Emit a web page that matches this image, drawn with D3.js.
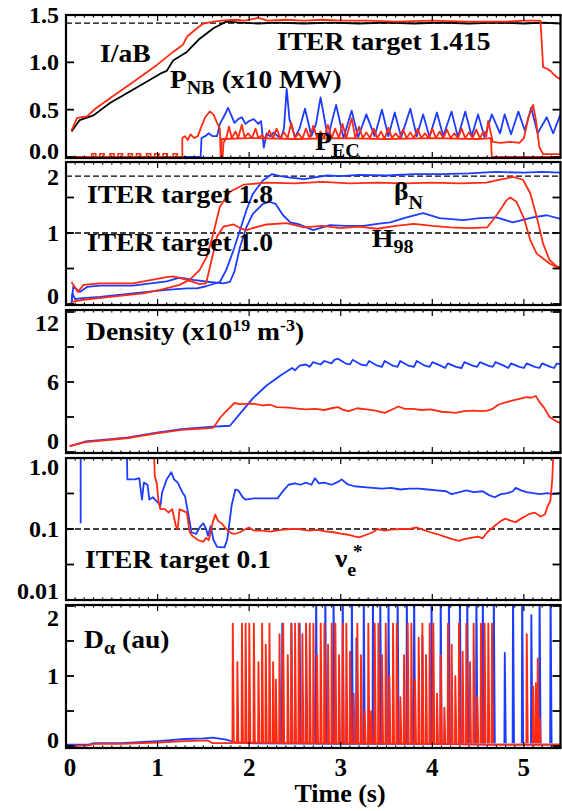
<!DOCTYPE html>
<html><head><meta charset="utf-8">
<script src="https://cdn.jsdelivr.net/npm/d3@7"></script>
<style>body{margin:0;background:#fff}svg{display:block}text{font-family:"Liberation Serif","Times New Roman",serif;font-weight:bold;fill:#000}</style>
</head><body>
<script>
// ---------------- DATA ----------------
const xTickValues = [0,1,2,3,4,5];
const xTickLabels = ["0","1","2","3","4","5"];
const xTitle = "Time (s)";

// Panel 1 : I/aB, P_NB, P_EC
const iaB_black = [[0.06,0.27],[0.15,0.39],[0.30,0.44],[0.48,0.57],[0.73,0.71],[1.03,0.88],[1.10,0.91],[1.17,1.02],[1.32,1.11],[1.46,1.25],[1.61,1.36],[1.75,1.43],[1.9,1.42],[2.1,1.41],[2.3,1.42],[2.6,1.41],[2.9,1.42],[3.2,1.41],[3.5,1.42],[3.8,1.41],[4.1,1.42],[4.4,1.41],[4.7,1.42],[5.0,1.41],[5.2,1.42],[5.4,1.41]];
const iaB_red = [[0.06,0.28],[0.12,0.41],[0.17,0.42],[0.23,0.43],[0.32,0.51],[0.48,0.62],[0.73,0.79],[0.99,0.97],[1.17,1.11],[1.24,1.16],[1.28,1.19],[1.32,1.27],[1.43,1.36],[1.50,1.41],[1.61,1.43],[1.7,1.44],[1.85,1.45],[1.95,1.44],[2.1,1.47],[2.2,1.44],[2.4,1.45],[2.6,1.44],[2.8,1.45],[3.0,1.44],[3.3,1.44],[3.6,1.43],[4.0,1.44],[4.4,1.43],[4.8,1.43],[5.0,1.44],[5.18,1.44],[5.19,1.3],[5.21,0.95],[5.26,0.93],[5.3,0.9],[5.35,0.85],[5.4,0.82]];
const pnb_blue = [[0,0],[1.47,0],[1.48,0.2],[1.52,0.22],[1.56,0.25],[1.6,0.22],[1.65,0.22],[1.68,0.35],[1.72,0.42],[1.77,0.52],[1.8,0.45],[1.84,0.36],[1.88,0.4],[1.92,0.42],[1.96,0.35],[2.0,0.38],[2.05,0.4],[2.1,0.35],[2.13,0.38],[2.16,0.1],[2.19,0.25],[2.23,0.22],[2.27,0.26],[2.31,0.22],[2.35,0.2],[2.38,0.3],[2.41,0.72],[2.44,0.4],[2.50,0.21],[2.55,0.3],[2.61,0.51],[2.68,0.22],[2.73,0.35],[2.78,0.63],[2.86,0.2],[2.91,0.4],[2.95,0.55],[3.03,0.2],[3.12,0.49],[3.19,0.21],[3.28,0.45],[3.37,0.22],[3.45,0.5],[3.52,0.22],[3.59,0.47],[3.66,0.21],[3.76,0.51],[3.83,0.22],[3.90,0.45],[3.97,0.21],[4.05,0.47],[4.12,0.22],[4.21,0.48],[4.28,0.21],[4.36,0.48],[4.43,0.22],[4.50,0.45],[4.57,0.21],[4.65,0.45],[4.74,0.25],[4.79,0.45],[4.86,0.24],[4.94,0.48],[5.01,0.28],[5.08,0.52],[5.15,0.25],[5.25,0.42],[5.32,0.25],[5.4,0.45]];
const pnb_red = [[0,0],[1.27,0],[1.27,0.2],[1.3,0.22],[1.33,0.18],[1.36,0.24],[1.4,0.2],[1.44,0.22],[1.47,0.3],[1.52,0.42],[1.57,0.48],[1.61,0.45],[1.65,0.36],[1.68,0.3],[1.69,0.0],[1.71,0.0],[1.72,0.15],[1.75,0.2],[1.78,0.32],[1.81,0.2],[1.85,0.27],[1.88,0.2],[1.92,0.34],[1.95,0.21],[1.99,0.25],[2.03,0.2],[2.07,0.3],[2.1,0.2],[2.14,0.23],[2.18,0.19],[2.22,0.28],[2.26,0.2],[2.3,0.3],[2.34,0.2],[2.38,0.26],[2.42,0.2],[2.46,0.36],[2.5,0.2],[2.54,0.25],[2.58,0.19],[2.62,0.3],[2.66,0.2],[2.7,0.33],[2.74,0.21],[2.78,0.27],[2.82,0.2],[2.86,0.34],[2.9,0.2],[2.94,0.3],[2.98,0.2],[3.02,0.35],[3.06,0.2],[3.12,0.41],[3.16,0.2],[3.2,0.32],[3.24,0.2],[3.28,0.26],[3.32,0.2],[3.36,0.3],[3.4,0.2],[3.44,0.27],[3.48,0.19],[3.52,0.31],[3.56,0.2],[3.6,0.25],[3.64,0.2],[3.68,0.29],[3.72,0.2],[3.76,0.26],[3.8,0.2],[3.84,0.3],[3.88,0.2],[3.92,0.25],[3.96,0.2],[4.0,0.3],[4.04,0.2],[4.08,0.27],[4.12,0.2],[4.16,0.29],[4.2,0.2],[4.24,0.25],[4.28,0.2],[4.32,0.3],[4.36,0.2],[4.4,0.26],[4.44,0.2],[4.48,0.29],[4.52,0.2],[4.56,0.27],[4.59,0.22],[4.61,0.38],[4.64,0.25],[4.66,0.16],[4.75,0.15],[4.85,0.16],[4.95,0.15],[5.0,0.2],[5.05,0.42],[5.1,0.55],[5.13,0.4],[5.17,0.1],[5.21,0.03],[5.4,0.03]];
const pnb_red_pulses = [0.28,0.37,0.48,0.57,0.68,0.77,0.88,0.97,1.06,1.17];
const pnb_red_pulseHeight = 0.035;
const pec_red = [[1.69,0],[1.70,0.19],[2.0,0.2],[2.5,0.19],[3.0,0.2],[3.5,0.19],[4.0,0.2],[4.5,0.19],[4.64,0.2],[4.65,0],[5.4,0]];

// Panel 2 : beta_N, H98
const betaN_blue = [[0.06,0],[0.07,0.15],[0.1,0.07],[0.15,0.08],[0.37,0.1],[0.73,0.15],[1.1,0.2],[1.32,0.22],[1.43,0.22],[1.53,0.25],[1.68,0.31],[1.75,0.48],[1.83,0.76],[1.9,1.04],[1.97,1.32],[2.04,1.55],[2.15,1.74],[2.25,1.83],[2.34,1.8],[2.45,1.78],[2.6,1.76],[2.7,1.78],[2.85,1.81],[3.0,1.8],[3.2,1.82],[3.5,1.81],[3.8,1.83],[4.1,1.83],[4.4,1.84],[4.7,1.86],[5.0,1.85],[5.2,1.86],[5.4,1.85]];
const h98_blue = [[0.06,0],[0.08,0.25],[0.15,0.17],[0.23,0.24],[0.37,0.26],[0.73,0.26],[1.1,0.32],[1.24,0.37],[1.39,0.34],[1.57,0.31],[1.72,0.29],[1.79,0.31],[1.84,0.46],[1.9,0.8],[1.97,1.08],[2.04,1.27],[2.15,1.41],[2.22,1.44],[2.29,1.41],[2.37,1.25],[2.45,1.15],[2.55,1.12],[2.7,1.04],[2.8,1.08],[2.88,1.11],[3.05,1.1],[3.25,1.1],[3.4,1.13],[3.54,1.15],[3.72,1.22],[3.9,1.28],[4.08,1.21],[4.34,1.18],[4.52,1.21],[4.7,1.22],[4.88,1.15],[5.1,1.22],[5.25,1.25],[5.4,1.2]];
const betaN_red = [[0.06,0.03],[0.19,0.06],[0.48,0.1],[0.84,0.15],[1.03,0.2],[1.24,0.27],[1.35,0.34],[1.46,0.48],[1.54,0.67],[1.61,1.0],[1.68,1.37],[1.79,1.58],[1.94,1.68],[2.19,1.71],[2.5,1.7],[2.8,1.72],[3.1,1.7],[3.4,1.71],[3.7,1.7],[4.0,1.71],[4.3,1.7],[4.59,1.71],[4.7,1.74],[4.81,1.77],[4.88,1.79],[4.99,1.75],[5.07,1.56],[5.14,1.23],[5.21,0.85],[5.28,0.62],[5.36,0.53],[5.4,0.52]];
const h98_red = [[0.06,0.31],[0.13,0.17],[0.19,0.27],[0.37,0.29],[0.73,0.29],[1.1,0.38],[1.17,0.39],[1.32,0.34],[1.46,0.28],[1.53,0.29],[1.59,0.62],[1.65,0.95],[1.72,1.09],[1.83,1.12],[1.9,1.07],[1.97,1.04],[2.04,1.07],[2.19,1.12],[2.41,1.14],[2.6,1.08],[2.8,1.1],[3.0,1.07],[3.2,1.09],[3.4,1.06],[3.6,1.1],[3.8,1.13],[4.0,1.1],[4.2,1.08],[4.4,1.07],[4.6,1.08],[4.66,1.18],[4.74,1.32],[4.81,1.46],[4.85,1.5],[4.92,1.44],[5.0,1.21],[5.07,0.9],[5.14,0.71],[5.21,0.64],[5.28,0.57],[5.36,0.52],[5.4,0.5]];

// Panel 3 : density
const dens_blue = [[0.04,0.5],[0.21,0.9],[0.49,1.1],[0.68,1.25],[0.99,1.65],[1.26,1.95],[1.57,2.15],[1.79,2.25],[1.88,3.1],[2.04,4.6],[2.19,5.7],[2.35,6.6],[2.47,7.2],[2.5,7.0],[2.55,7.4],[2.62,7.5],[2.66,7.3],[2.7,7.7],[2.78,7.5],[2.82,7.8],[2.9,7.6],[2.93,7.9],[2.97,8.0],[3.05,7.6],[3.1,7.5],[3.13,7.9],[3.22,7.5],[3.28,7.4],[3.31,7.8],[3.4,7.4],[3.45,7.3],[3.48,7.8],[3.57,7.4],[3.62,7.3],[3.65,7.8],[3.74,7.4],[3.8,7.3],[3.83,7.8],[3.92,7.4],[3.97,7.3],[4.0,7.7],[4.09,7.4],[4.14,7.2],[4.17,7.6],[4.26,7.3],[4.32,7.2],[4.35,7.7],[4.44,7.4],[4.49,7.3],[4.52,7.7],[4.61,7.4],[4.66,7.3],[4.69,7.7],[4.78,7.4],[4.83,7.2],[4.86,7.6],[4.95,7.3],[5.0,7.2],[5.03,7.6],[5.12,7.3],[5.17,7.2],[5.2,7.6],[5.29,7.3],[5.33,7.2],[5.36,7.6],[5.4,7.5]];
const dens_red = [[0.04,0.5],[0.21,0.85],[0.49,1.05],[0.68,1.2],[0.99,1.6],[1.26,1.9],[1.57,2.05],[1.61,2.1],[1.69,3.0],[1.75,3.5],[1.84,4.2],[1.9,4.1],[2.04,4.15],[2.15,4.0],[2.23,4.05],[2.3,3.85],[2.43,3.8],[2.55,3.7],[2.62,3.65],[2.72,3.7],[2.82,3.6],[2.9,3.75],[2.97,3.85],[3.03,3.6],[3.09,3.5],[3.18,3.75],[3.28,3.65],[3.38,3.55],[3.48,3.35],[3.55,3.6],[3.63,3.9],[3.7,3.7],[3.79,3.7],[3.88,3.6],[3.98,3.65],[4.1,3.45],[4.2,3.4],[4.25,3.35],[4.35,3.5],[4.45,3.55],[4.53,3.5],[4.6,3.55],[4.66,3.7],[4.72,4.05],[4.8,4.25],[4.87,4.4],[4.95,4.55],[5.03,4.7],[5.08,4.65],[5.13,4.8],[5.17,4.3],[5.22,3.8],[5.28,3.0],[5.32,2.8],[5.36,2.6],[5.4,2.5]];

// Panel 4 : nu_e*
const nu_blue_early = [[0.16,0.12],[0.16,3]];
const nu_blue = [[0.66,3],[0.67,0.5],[0.75,0.5],[0.80,0.52],[0.83,0.26],[0.85,0.45],[0.89,0.42],[0.91,0.26],[0.95,0.28],[1.0,0.24],[1.03,0.21],[1.05,0.33],[1.1,0.5],[1.15,0.63],[1.18,0.5],[1.22,0.45],[1.27,0.33],[1.30,0.29],[1.34,0.15],[1.37,0.09],[1.42,0.085],[1.47,0.11],[1.50,0.12],[1.53,0.1],[1.55,0.08],[1.58,0.11],[1.61,0.07],[1.65,0.056],[1.73,0.055],[1.76,0.07],[1.78,0.11],[1.81,0.22],[1.85,0.36],[1.88,0.35],[1.93,0.28],[1.96,0.26],[2.05,0.27],[2.12,0.27],[2.2,0.27],[2.31,0.27],[2.36,0.33],[2.43,0.42],[2.5,0.44],[2.56,0.42],[2.62,0.45],[2.68,0.42],[2.72,0.52],[2.76,0.44],[2.82,0.45],[2.9,0.42],[2.97,0.46],[3.01,0.5],[3.07,0.43],[3.15,0.4],[3.25,0.39],[3.35,0.38],[3.45,0.37],[3.55,0.38],[3.65,0.36],[3.75,0.37],[3.85,0.37],[3.95,0.36],[4.05,0.35],[4.15,0.34],[4.21,0.31],[4.3,0.33],[4.37,0.35],[4.45,0.33],[4.55,0.34],[4.62,0.3],[4.68,0.28],[4.75,0.31],[4.82,0.32],[4.88,0.34],[4.91,0.38],[4.97,0.35],[5.03,0.33],[5.1,0.32],[5.18,0.31],[5.25,0.32],[5.32,0.31],[5.4,0.32]];
const nu_red = [[0.95,3],[0.97,0.55],[0.99,0.45],[1.01,0.25],[1.03,0.19],[1.08,0.19],[1.12,0.17],[1.16,0.19],[1.2,0.11],[1.22,0.1],[1.24,0.19],[1.28,0.18],[1.32,0.17],[1.35,0.09],[1.38,0.08],[1.44,0.07],[1.5,0.066],[1.53,0.075],[1.56,0.07],[1.6,0.12],[1.63,0.16],[1.66,0.13],[1.7,0.12],[1.75,0.1],[1.8,0.088],[1.84,0.085],[1.9,0.09],[1.96,0.1],[2.0,0.105],[2.05,0.095],[2.15,0.095],[2.23,0.092],[2.35,0.097],[2.45,0.1],[2.54,0.1],[2.65,0.095],[2.75,0.097],[2.82,0.093],[2.92,0.09],[3.0,0.086],[3.08,0.083],[3.15,0.079],[3.2,0.076],[3.28,0.083],[3.35,0.09],[3.4,0.1],[3.48,0.095],[3.55,0.098],[3.65,0.1],[3.75,0.1],[3.83,0.105],[3.9,0.097],[3.98,0.09],[4.05,0.085],[4.15,0.077],[4.22,0.072],[4.29,0.068],[4.35,0.072],[4.42,0.075],[4.5,0.078],[4.55,0.074],[4.6,0.09],[4.68,0.11],[4.75,0.13],[4.8,0.14],[4.86,0.13],[4.91,0.125],[4.97,0.14],[5.03,0.155],[5.07,0.165],[5.12,0.17],[5.18,0.15],[5.23,0.16],[5.26,0.21],[5.29,0.25],[5.31,0.5],[5.32,1.0],[5.34,3]];

// Panel 5 : D-alpha
const da_blue_base = [[0,0.02],[0.25,0.02],[0.3,0.04],[0.6,0.04],[1.0,0.07],[1.3,0.1],[1.5,0.11],[1.6,0.12],[1.75,0.09],[1.85,0.05],[2.0,0.04],[3.0,0.03],[4.0,0.03],[4.6,0.02],[5.4,0.02]];
const da_red_base = [[0,0.0],[0.25,0.01],[0.3,0.03],[0.6,0.03],[1.0,0.05],[1.3,0.07],[1.55,0.08],[1.6,0.04],[1.8,0.04],[1.85,0.05],[2.5,0.04],[4.0,0.03],[4.7,0.02],[5.4,0.02]];
const da_blue_spikeT = [2.36,2.46,2.55,2.62,2.73,2.83,2.92,3.02,3.12,3.17,3.25,3.35,3.43,3.52,3.62,3.72,3.80,3.89,3.99,4.09,4.18,4.30,4.38,4.48,4.55,4.67,4.79,4.88,4.98,5.08,5.17,5.29];
const da_blue_spikeV = [1.75,1.75,1.75,1.75,2.3,2.3,2.3,2.3,2.3,1.54,2.3,2.3,2.3,2.3,2.3,2.3,2.3,1.57,2.3,2.3,2.3,2.3,2.3,2.3,2.3,2.3,1.33,2.3,2.3,1.87,2.3,2.3];
const da_red_spikeT = [1.82,1.87,1.92,1.96,2.00,2.05,2.10,2.14,2.18,2.22,2.26,2.29,2.33,2.37,2.42,2.46,2.50,2.54,2.58,2.62,2.66,2.70,2.74,2.78,2.82,2.86,2.90,2.94,2.98,3.02,3.06,3.10,3.14,3.18,3.22,3.26,3.30,3.33,3.37,3.41,3.45,3.49,3.53,3.57,3.61,3.65,3.69,3.73,3.77,3.81,3.85,3.89,3.93,3.97,4.01,4.05,4.09,4.13,4.17,4.21,4.25,4.29,4.33,4.37,4.41,4.45,4.49,4.53,4.57,4.61,4.65,5.03,5.10,5.13,5.15,5.17];
const da_red_spikeV = [1.75,1.2,1.75,1.75,1.75,1.75,1.2,1.75,1.45,1.75,1.2,0.95,1.6,1.75,1.3,1.75,1.75,1.75,1.6,1.75,1.75,1.75,1.3,1.75,1.75,1.45,1.75,1.75,1.3,1.75,1.75,1.35,0.75,1.75,1.3,0.5,1.75,0.5,1.75,1.75,1.3,1.75,1.0,1.75,1.75,0.7,1.3,1.75,1.75,0.95,1.55,1.75,1.3,1.75,1.75,0.75,1.3,0.55,1.75,1.45,1.0,1.75,1.35,1.75,1.2,1.75,0.7,1.75,1.75,1.75,1.75,1.6,0.85,0.9,1.25,0.4];

// ---------------- DRAWING ----------------
const RED = "#ff2a12", BLUE = "#1c3cff";
const W = 562, H = 811;
const svg = d3.select("body").append("svg").attr("width", W).attr("height", H);
const x = d3.scaleLinear().domain([0, 5.4]).range([66, 560.5]);

// labelY: vertical centre of each tick label (kept apart between stacked panels)
const panels = [
  {top:15, bottom:158, y:d3.scaleLinear().domain([0,1.5]).range([157,15]), ticks:[1.5,1,0.5,0], labels:["1.5","1.0","0.5","0.0"], minor:[], labelY:[15,62,110,151]},
  {top:162, bottom:305, y:d3.scaleLinear().domain([0,2]).range([304,162]), ticks:[2,1,0], labels:["2","1","0"], minor:[0.5,1.5], labelY:[177,233,296]},
  {top:310, bottom:453, y:d3.scaleLinear().domain([0,12]).range([452,312]), ticks:[12,6,0], labels:["12","6","0"], minor:[3,9], labelY:[323,382,441]},
  {top:458, bottom:600, y:d3.scaleLog().domain([0.01,1]).range([600,458]), ticks:[1,0.1,0.01], labels:["1.0","0.1","0.01"], minor:[Math.pow(10,-0.5),Math.pow(10,-1.5)], labelY:[467,529,591]},
  {top:605, bottom:748, y:d3.scaleLinear().domain([0,2]).range([746,606]), ticks:[2,1,0], labels:["2","1","0"], minor:[0.5,1.5], labelY:[618,676,740]}
];

const defs = svg.append("defs");
panels.forEach((p,i)=>{
  defs.append("clipPath").attr("id","clip"+i).append("rect")
    .attr("x",x(0)).attr("y",p.top).attr("width",x(5.4)-x(0)).attr("height",p.bottom-p.top);
});

function drawLine(i, data, color, w){
  const p = panels[i];
  const line = d3.line().x(d=>x(d[0])).y(d=>p.y(d[1]));
  svg.append("path").attr("clip-path","url(#clip"+i+")").datum(data)
    .attr("d", line).attr("fill","none").attr("stroke",color).attr("stroke-width",w||1.8)
    .attr("stroke-linejoin","round");
}
function dashed(i, v){
  const p = panels[i];
  svg.append("line").attr("x1",x(0)).attr("x2",x(5.4)).attr("y1",p.y(v)).attr("y2",p.y(v))
    .attr("stroke","#000").attr("stroke-width",1.3).attr("stroke-dasharray","6,3");
}

dashed(0,1.415); dashed(1,1.8); dashed(1,1.0); dashed(3,0.1);

// Panel 1
drawLine(0, iaB_black, "#000");
drawLine(0, pnb_blue, BLUE);
drawLine(0, pec_red, RED);
drawLine(0, pnb_red, RED);
pnb_red_pulses.forEach(t=>{
  const p = panels[0];
  svg.append("path").attr("clip-path","url(#clip0)")
    .attr("d", d3.line()([[x(t),p.y(0)],[x(t),p.y(pnb_red_pulseHeight)],[x(t+0.045),p.y(pnb_red_pulseHeight)],[x(t+0.045),p.y(0)]]))
    .attr("fill","none").attr("stroke",RED).attr("stroke-width",1.6);
});
drawLine(0, iaB_red, RED);

// Panel 2
drawLine(1, betaN_blue, BLUE);
drawLine(1, h98_blue, BLUE);
drawLine(1, betaN_red, RED);
drawLine(1, h98_red, RED);

// Panel 3
drawLine(2, dens_blue, BLUE);
drawLine(2, dens_red, RED);

// Panel 4
drawLine(3, nu_blue_early, BLUE);
drawLine(3, nu_blue, BLUE);
drawLine(3, nu_red, RED);

// Panel 5
function spikes(i, ts, vs, color){
  const p = panels[i];
  ts.forEach((t,k)=>{
    svg.append("path").attr("clip-path","url(#clip"+i+")")
      .attr("d", d3.line()([[x(t-0.004),p.y(0.04)],[x(t),p.y(vs[k])],[x(t+0.003),p.y(vs[k])],[x(t+0.014),p.y(0.04)]]))
      .attr("fill","none").attr("stroke",color).attr("stroke-width",1.6).attr("stroke-linejoin","round");
  });
}
drawLine(4, da_blue_base, BLUE);
spikes(4, da_blue_spikeT, da_blue_spikeV, BLUE);
drawLine(4, da_red_base, RED);
spikes(4, da_red_spikeT, da_red_spikeV, RED);

// Frames, ticks, labels
panels.forEach((p,i)=>{
  const g = svg.append("g");
  g.append("rect").attr("x",x(0)).attr("y",p.top).attr("width",x(5.4)-x(0)).attr("height",p.bottom-p.top)
    .attr("fill","none").attr("stroke","#000").attr("stroke-width",2.2);
  p.ticks.concat(p.minor).forEach(v=>{
    const yy = p.y(v);
    if (yy < p.top+1 || yy > p.bottom-1) return;
    g.append("line").attr("x1",x(0)).attr("x2",x(0)+8).attr("y1",yy).attr("y2",yy).attr("stroke","#000").attr("stroke-width",1.8);
    g.append("line").attr("x1",x(5.4)-8).attr("x2",x(5.4)).attr("y1",yy).attr("y2",yy).attr("stroke","#000").attr("stroke-width",1.8);
  });
  d3.range(0,55).forEach(k=>{
    const t = k/10; const major = (k%10===0);
    const len = major ? 6 : 2.5;
    const xx = x(t);
    g.append("line").attr("x1",xx).attr("x2",xx).attr("y1",p.bottom).attr("y2",p.bottom-len).attr("stroke","#000").attr("stroke-width",1.2);
    g.append("line").attr("x1",xx).attr("x2",xx).attr("y1",p.top).attr("y2",p.top+len).attr("stroke","#000").attr("stroke-width",1.2);
  });
  p.ticks.forEach((v,k)=>{
    g.append("text").attr("x",59).attr("y",p.labelY[k]+8).attr("text-anchor","end").attr("font-size",24).text(p.labels[k]);
  });
});

xTickValues.forEach((t,k)=>{
  svg.append("text").attr("x",Math.max(70,x(t))).attr("y",776).attr("text-anchor","middle").attr("font-size",25).text(xTickLabels[k]);
});
svg.append("text").attr("x",340).attr("y",802).attr("text-anchor","middle").attr("font-size",26).text(xTitle);

// annotations
function label(xp, yp, parts){
  const t = svg.append("text").attr("transform","translate("+xp+","+yp+") scale(1.06,1)").attr("font-size",26);
  parts.forEach(pt=>{
    const ts = t.append("tspan").text(pt.s);
    if (pt.sub) ts.attr("font-size",19).attr("dy",pt.dy||6);
    if (pt.sup) ts.attr("font-size",17).attr("dy",pt.dy||-10);
    if (pt.back) ts.attr("dy",pt.back).attr("font-size",pt.fs||26);
  });
  return t;
}
label(100, 62, [{s:"I/aB"}]);
label(170, 88, [{s:"P"},{s:"NB",sub:true,dy:6},{s:" (x10 MW)",back:-6}]);
label(277, 50, [{s:"ITER target 1.415"}]);
label(315, 150, [{s:"P"},{s:"EC",sub:true,dy:7}]);
label(87, 203, [{s:"ITER target 1.8"}]);
label(87, 251, [{s:"ITER target 1.0"}]);
label(394, 200, [{s:"β"},{s:"N",sub:true,dy:9}]);
label(372, 247, [{s:"H"},{s:"98",sub:true,dy:6}]);
label(86, 340, [{s:"Density (x10"},{s:"19",sup:true,dy:-9},{s:" m",back:9},{s:"-3",sup:true,dy:-9},{s:")",back:9}]);
label(85, 568, [{s:"ITER target 0.1"}]);
label(335, 567, [{s:"ν"},{s:"e",sub:true,dy:9}]);
svg.append("text").attr("x",353).attr("y",558).attr("font-size",19).text("*");
label(84, 648, [{s:"D"},{s:"α",sub:true,dy:6},{s:" (au)",back:-6}]);
</script>
</body></html>
